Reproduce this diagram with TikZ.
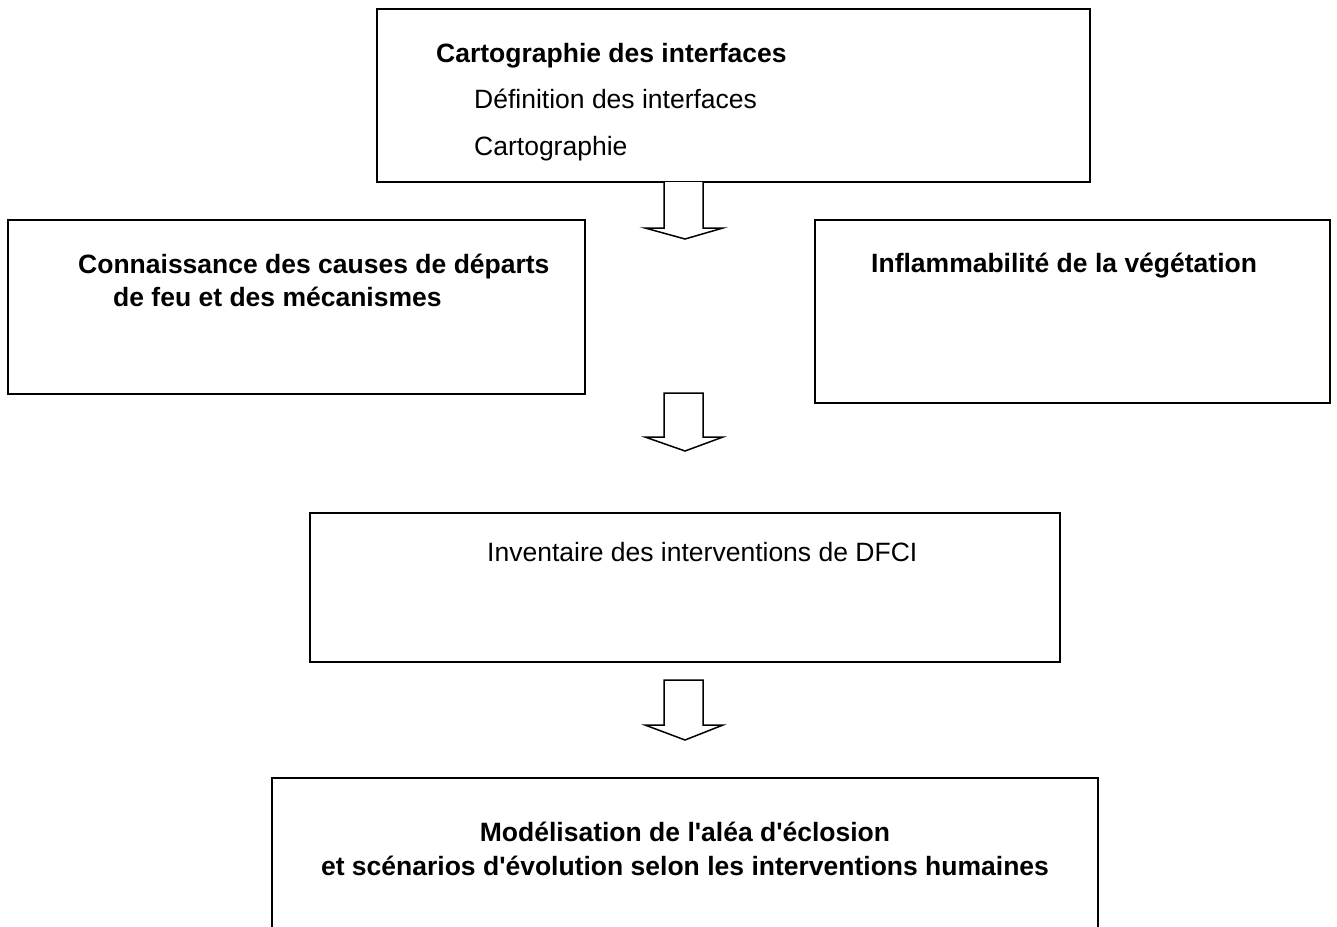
\documentclass[tikz,border=0pt]{standalone}
\usepackage{fontspec}
\setmainfont{Liberation Sans}
\usetikzlibrary{calc}
\begin{document}
\begin{tikzpicture}[x=1pt,y=-1pt,
  box/.style={draw=black,line width=1.5pt,rectangle,inner sep=0pt},
  blockarrow/.style={draw=black,line width=1.5pt,fill=white,line join=miter},
  lbl/.style={anchor=base west,inner sep=0pt,font=\fontsize{26.5}{31}\selectfont},
  lblb/.style={lbl,font=\fontsize{26.5}{31}\selectfont\bfseries}]
\useasboundingbox (0,0) rectangle (1337,926);
% boxes
\draw[box] (377,9) rectangle (1090,182);
\draw[box] (8,220) rectangle (585,394);
\draw[box] (815,220) rectangle (1330,403);
\draw[box] (310,513) rectangle (1060,662);
\draw[box] (272,960) -- (272,778) -- (1098,778) -- (1098,960);
% texts
\node[lblb] (t1) at (436,62) {Cartographie des interfaces};
\node[lbl] (t2) at (474,108) {Définition des interfaces};
\node[lbl] (t3) at (474,155) {Cartographie};
\node[lblb] (l1) at (78,273) {Connaissance des causes de départs};
\node[lblb] (l2) at (113,306) {de feu et des mécanismes};
\node[lblb] (r1) at (871,272) {Inflammabilité de la végétation};
\node[lbl] (m1) at (487,561) {Inventaire des interventions de DFCI};
\node[lblb,anchor=base] (b1) at (685,841) {Modélisation de l\textquotesingle aléa d\textquotesingle éclosion};
\node[lblb,anchor=base] (b2) at (685,875) {et scénarios d\textquotesingle évolution selon les interventions humaines};
% block arrows
\draw[blockarrow] (664,182) -- (664,228) -- (645,228) -- (685,239) -- (723,228) -- (703,228) -- (703,182);
\draw[blockarrow] (664,393) -- (664,437) -- (645,437) -- (685,451) -- (723,437) -- (703,437) -- (703,393) -- cycle;
\draw[blockarrow] (664,680) -- (664,725) -- (645,725) -- (685,740) -- (723,725) -- (703,725) -- (703,680) -- cycle;
\end{tikzpicture}
\end{document}
